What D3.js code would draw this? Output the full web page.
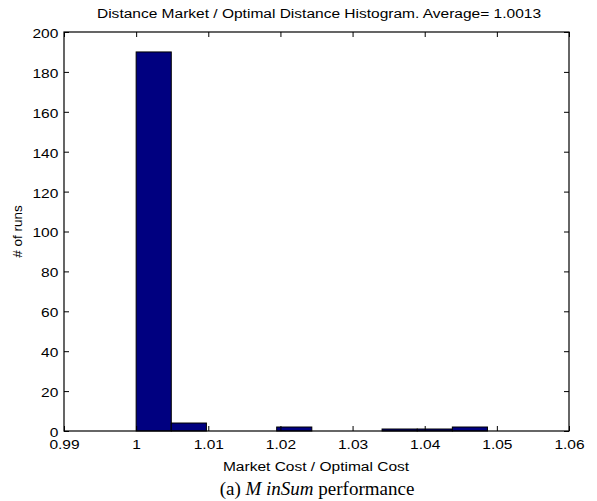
<!DOCTYPE html>
<html lang="en">
<head>
<meta charset="UTF-8">
<title>Histogram</title>
<script src="https://cdn.jsdelivr.net/npm/d3@7"></script>
<style>
  body{margin:0;background:#fff}
  text{font-family:"Liberation Sans",Arial,sans-serif}
</style>
</head>
<body>
<div class="chart"></div>
<script>
// data
let binLeft=[1.0,1.00487,1.00974,1.01461,1.01948,1.02435,1.02922,1.03409,1.03896,1.04383]
let binWidth=0.00487
let counts=[190,4,0,0,2,0,0,1,1,2]
let xTicks=[0.99,1,1.01,1.02,1.03,1.04,1.05,1.06]
let yTicks=[0,20,40,60,80,100,120,140,160,180,200]

let W=597,H=501
let m={left:64,right:569,top:32,bottom:431}
let fs=13.5, sx=1.15   // text in the source figure is stretched horizontally
let svg=d3.select('.chart').append('svg').attr('width',W).attr('height',H)

let x=d3.scaleLinear().domain([0.99,1.06]).range([m.left,m.right])
let y=d3.scaleLinear().domain([0,200]).range([m.bottom,m.top])

// bars
svg.append('g').selectAll('rect').data(counts).join('rect')
    .attr('x',(d,i)=>x(binLeft[i]))
    .attr('width',(d,i)=>x(binLeft[i]+binWidth)-x(binLeft[i]))
    .attr('y',d=>y(d))
    .attr('height',d=>y(0)-y(d))
    .attr('fill','#000080').attr('stroke','#000').attr('stroke-width',1)

// axes (ticks inward, mirrored)
let fmt=d=>String(d)
let xa=svg.append('g').attr('transform','translate(0,'+m.bottom+')')
    .call(d3.axisBottom(x).tickValues(xTicks).tickSizeInner(-5).tickSizeOuter(0).tickFormat(fmt))
svg.append('g').attr('transform','translate(0,'+m.top+')')
    .call(d3.axisTop(x).tickValues(xTicks).tickSizeInner(-5).tickSizeOuter(0).tickFormat(''))
let ya=svg.append('g').attr('transform','translate('+m.left+',0)')
    .call(d3.axisLeft(y).tickValues(yTicks).tickSizeInner(-5).tickSizeOuter(0).tickPadding(5).tickFormat(fmt))
svg.append('g').attr('transform','translate('+m.right+',0)')
    .call(d3.axisRight(y).tickValues(yTicks).tickSizeInner(-5).tickSizeOuter(0).tickFormat(''))
svg.selectAll('.domain').remove()
svg.selectAll('.tick line').attr('stroke','#000')
svg.selectAll('.tick text').attr('font-size',fs).attr('fill','#000')
    .attr('font-family','"Liberation Sans",Arial,sans-serif')
    .attr('transform','scale('+sx+',1)')
xa.selectAll('.tick text').attr('y',8).attr('dy','0.71em')
ya.selectAll('.tick text').attr('dy','0.4em')

// frame
svg.append('rect').attr('x',m.left).attr('y',m.top)
    .attr('width',m.right-m.left).attr('height',m.bottom-m.top)
    .attr('fill','none').attr('stroke','#000').attr('stroke-width',1.2)

// labels
function label(cx,cy,str){
    svg.append('g').attr('transform','translate('+cx+','+cy+')')
        .append('text').attr('transform','scale('+sx+',1)')
        .attr('text-anchor','middle').attr('font-size',fs).text(str)
}
label(319,18,'Distance Market / Optimal Distance Histogram. Average= 1.0013')
label(316,471,'Market Cost / Optimal Cost')
svg.append('text').attr('transform','translate(22,'+(m.top+m.bottom)/2+') rotate(-90)')
    .attr('text-anchor','middle').attr('font-size',fs).text('# of runs')
let cap=svg.append('text').attr('x',317).attr('y',495).attr('text-anchor','middle')
    .attr('font-size',19).style('font-family','"Liberation Serif","Times New Roman",serif')
cap.append('tspan').text('(a) ')
cap.append('tspan').attr('font-style','italic').text('M inSum')
cap.append('tspan').text(' performance')
</script>
</body>
</html>
